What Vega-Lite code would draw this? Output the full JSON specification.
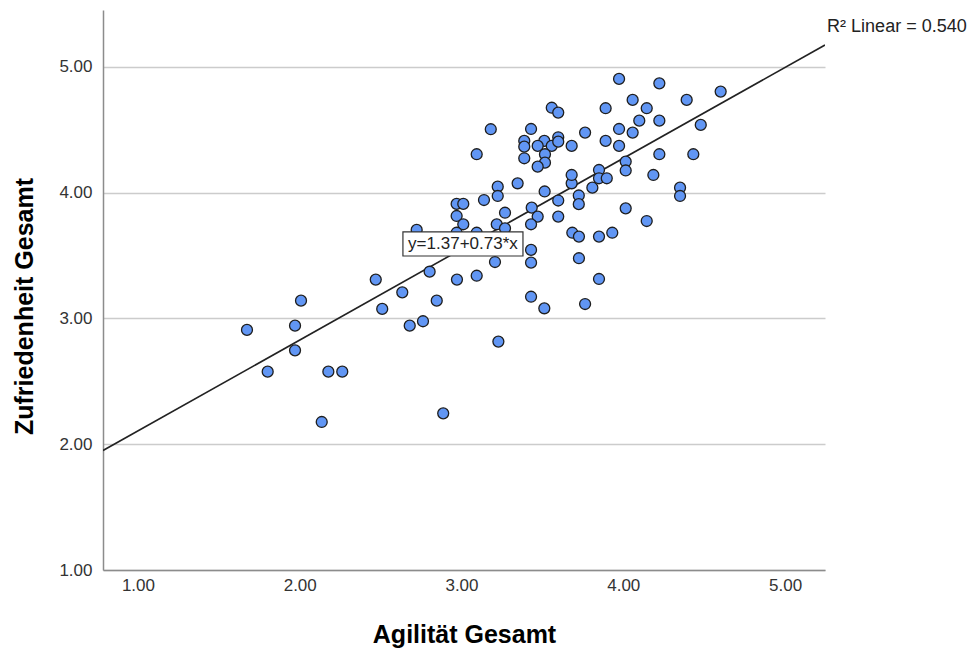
{
  "$schema": "https://vega.github.io/schema/vega-lite/v6.json",
  "width": 722,
  "height": 560,
  "autosize": "none",
  "padding": {"left": 103, "top": 10, "right": 148, "bottom": 78},
  "background": "white",
  "config": {
    "view": {"stroke": null},
    "font": "Liberation Sans, Arial, sans-serif"
  },
  "encoding": {
    "x": {
      "field": "x", "type": "quantitative",
      "scale": {"domain": [0.784, 5.247], "nice": false, "zero": false},
      "axis": {
        "title": "Agilität Gesamt",
        "values": [1, 2, 3, 4, 5],
        "format": ".2f",
        "grid": false,
        "ticks": false,
        "domainColor": "#8c8c8c",
        "domainWidth": 1.5,
        "labelFont": "Liberation Sans, Arial, sans-serif",
        "labelFontSize": 17,
        "labelColor": "#333333",
        "labelPadding": 7,
        "titleFont": "Liberation Sans, Arial, sans-serif",
        "titleFontSize": 25,
        "titleFontWeight": "bold",
        "titleColor": "#000000",
        "titleBaseline": "alphabetic",
        "titleY": 72
      }
    },
    "y": {
      "field": "y", "type": "quantitative",
      "scale": {"domain": [1, 5.453], "nice": false, "zero": false},
      "axis": {
        "title": "Zufriedenheit Gesamt",
        "values": [1, 2, 3, 4, 5],
        "format": ".2f",
        "grid": true,
        "gridColor": "#cccccc",
        "gridWidth": 1.5,
        "ticks": false,
        "domainColor": "#8c8c8c",
        "domainWidth": 1.5,
        "labelFont": "Liberation Sans, Arial, sans-serif",
        "labelFontSize": 17,
        "labelColor": "#333333",
        "labelPadding": 11,
        "titleFont": "Liberation Sans, Arial, sans-serif",
        "titleFontSize": 25,
        "titleFontWeight": "bold",
        "titleColor": "#000000",
        "titleAngle": -90,
        "titleAlign": "center",
        "titleBaseline": "alphabetic",
        "titleX": -71,
        "titleY": 296
      }
    }
  },
  "layer": [
    {
      "data": {"values": [{"x": 0.784, "y": 1.95}, {"x": 5.247, "y": 5.175}]},
      "mark": {"type": "line", "color": "#222222", "strokeWidth": 1.6, "clip": true}
    },
    {
      "data": {"values": [
        {"x": 1.674, "y": 2.909}, {"x": 1.802, "y": 2.577}, {"x": 1.971, "y": 2.943}, {"x": 1.971, "y": 2.747},
        {"x": 2.008, "y": 3.142}, {"x": 2.136, "y": 2.177}, {"x": 2.177, "y": 2.577}, {"x": 2.263, "y": 2.577},
        {"x": 2.470, "y": 3.309}, {"x": 2.510, "y": 3.076}, {"x": 2.634, "y": 3.208}, {"x": 2.680, "y": 2.943},
        {"x": 2.762, "y": 2.978}, {"x": 2.803, "y": 3.372}, {"x": 2.847, "y": 3.142}, {"x": 2.887, "y": 2.246},
        {"x": 2.972, "y": 3.309}, {"x": 3.094, "y": 3.340}, {"x": 2.723, "y": 3.704}, {"x": 3.228, "y": 2.816},
        {"x": 2.970, "y": 3.911}, {"x": 3.011, "y": 3.911}, {"x": 3.139, "y": 3.942}, {"x": 2.970, "y": 3.815},
        {"x": 3.011, "y": 3.749}, {"x": 3.269, "y": 3.841}, {"x": 3.218, "y": 3.749}, {"x": 3.269, "y": 3.717},
        {"x": 3.434, "y": 3.881}, {"x": 3.471, "y": 3.810}, {"x": 3.430, "y": 3.749}, {"x": 3.598, "y": 3.810},
        {"x": 3.598, "y": 3.938}, {"x": 3.514, "y": 4.010}, {"x": 3.681, "y": 4.075}, {"x": 3.725, "y": 3.978},
        {"x": 3.725, "y": 3.909}, {"x": 3.809, "y": 4.040}, {"x": 4.015, "y": 3.876}, {"x": 3.685, "y": 3.682},
        {"x": 3.726, "y": 3.651}, {"x": 3.850, "y": 3.651}, {"x": 3.932, "y": 3.682}, {"x": 3.726, "y": 3.479},
        {"x": 3.850, "y": 3.314}, {"x": 3.430, "y": 3.545}, {"x": 3.430, "y": 3.444}, {"x": 3.430, "y": 3.173},
        {"x": 3.512, "y": 3.081}, {"x": 3.764, "y": 3.115}, {"x": 2.970, "y": 3.682}, {"x": 3.094, "y": 3.682},
        {"x": 3.224, "y": 4.048}, {"x": 3.224, "y": 3.974}, {"x": 3.347, "y": 4.075}, {"x": 3.207, "y": 3.449},
        {"x": 3.974, "y": 4.905}, {"x": 3.558, "y": 4.676}, {"x": 3.598, "y": 4.637}, {"x": 3.891, "y": 4.672},
        {"x": 3.181, "y": 4.505}, {"x": 3.430, "y": 4.507}, {"x": 3.764, "y": 4.478}, {"x": 3.974, "y": 4.507},
        {"x": 3.388, "y": 4.412}, {"x": 3.388, "y": 4.366}, {"x": 3.512, "y": 4.412}, {"x": 3.471, "y": 4.372},
        {"x": 3.558, "y": 4.372}, {"x": 3.598, "y": 4.441}, {"x": 3.598, "y": 4.406}, {"x": 3.681, "y": 4.372},
        {"x": 3.891, "y": 4.412}, {"x": 3.974, "y": 4.372}, {"x": 3.094, "y": 4.306}, {"x": 3.388, "y": 4.274},
        {"x": 3.516, "y": 4.306}, {"x": 3.516, "y": 4.239}, {"x": 3.471, "y": 4.207}, {"x": 3.681, "y": 4.141},
        {"x": 3.850, "y": 4.181}, {"x": 3.850, "y": 4.115}, {"x": 3.898, "y": 4.115}, {"x": 4.015, "y": 4.248},
        {"x": 4.015, "y": 4.177}, {"x": 4.223, "y": 4.870}, {"x": 4.602, "y": 4.804}, {"x": 4.058, "y": 4.738},
        {"x": 4.392, "y": 4.738}, {"x": 4.145, "y": 4.672}, {"x": 4.099, "y": 4.573}, {"x": 4.223, "y": 4.573},
        {"x": 4.479, "y": 4.539}, {"x": 4.058, "y": 4.478}, {"x": 4.223, "y": 4.306}, {"x": 4.433, "y": 4.306},
        {"x": 4.186, "y": 4.141}, {"x": 4.351, "y": 4.040}, {"x": 4.351, "y": 3.974}, {"x": 4.145, "y": 3.775}
      ]},
      "mark": {"type": "point", "shape": "circle", "filled": true, "fill": "#6196f4", "fillOpacity": 1, "stroke": "#1e1e1e", "strokeWidth": 1.3, "size": 120, "opacity": 1}
    },
    {
      "data": {"values": [{"x": 2.638, "x2": 3.380, "y": 3.497, "y2": 3.688}]},
      "mark": {"type": "rect", "fill": "white", "stroke": "#333333", "strokeWidth": 1.2},
      "encoding": {"x2": {"field": "x2"}, "y2": {"field": "y2"}}
    },
    {
      "data": {"values": [{"x": 3.009, "y": 3.592, "label": "y=1.37+0.73*x"}]},
      "mark": {"type": "text", "fontSize": 17, "color": "#222222", "align": "center", "baseline": "middle", "font": "Liberation Sans, Arial, sans-serif"},
      "encoding": {"text": {"field": "label"}}
    },
    {
      "data": {"values": [{"x": 5.26, "y": 5.281, "label": "R² Linear = 0.540"}]},
      "mark": {"type": "text", "fontSize": 18, "color": "#222222", "align": "left", "baseline": "alphabetic", "font": "Liberation Sans, Arial, sans-serif"},
      "encoding": {"text": {"field": "label"}}
    }
  ]
}
